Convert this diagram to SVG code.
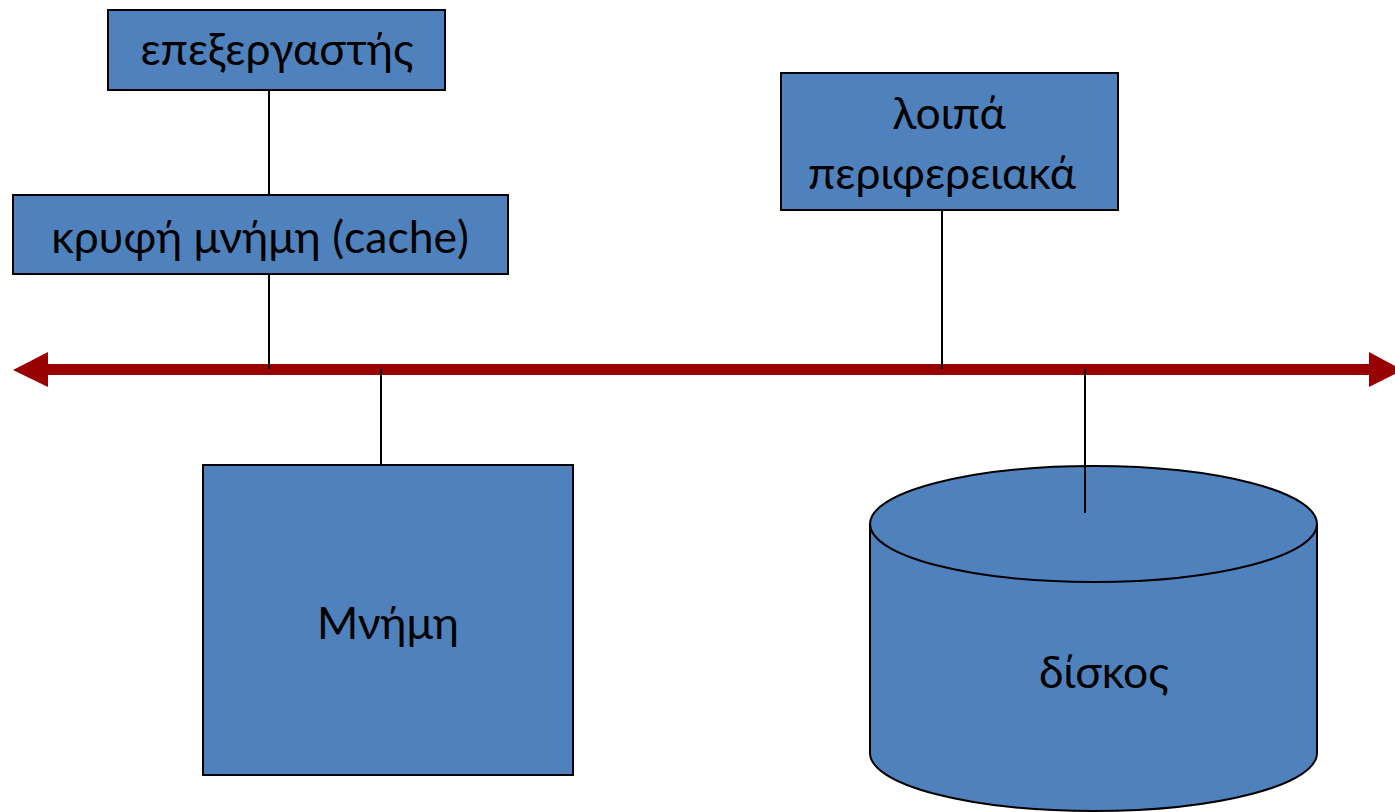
<svg xmlns="http://www.w3.org/2000/svg" width="1395" height="812" viewBox="0 0 1395 812">
  <style>
    .box { fill: #4F81BD; stroke: #000; stroke-width: 2; }
    .wire { stroke: #000; stroke-width: 2; fill: none; }
    .lbl { font-family: Lato, "Open Sans", "Noto Sans", sans-serif; font-size: 44.5px; fill: #000; text-anchor: middle; }
    .bus { fill: #990000; }
  </style>

  <!-- system bus: double-headed arrow -->
  <g id="bus">
    <polygon class="bus" points="13,370 48,352 48,364 1369,364 1369,352 1395,366 1395,374 1369,387 1369,375 48,375 48,387"/>
  </g>

  <!-- connectors to the bus -->
  <g id="connectors">
    <line class="wire" x1="269" y1="90" x2="269" y2="195"/>
    <line class="wire" x1="269" y1="274" x2="269" y2="369"/>
    <line class="wire" x1="942" y1="210" x2="942" y2="369"/>
    <line class="wire" x1="381" y1="369" x2="381" y2="465"/>
  </g>

  <g id="cpu">
    <rect class="box" x="108" y="10" width="337" height="80"/>
    <text class="lbl" x="277" y="65">επεξεργαστής</text>
  </g>

  <g id="cache">
    <rect class="box" x="13" y="195" width="495" height="79"/>
    <text class="lbl" x="260" y="253">κρυφή μνήμη (cache)</text>
  </g>

  <g id="peripherals">
    <rect class="box" x="781" y="73" width="337" height="137"/>
    <text class="lbl" x="949" y="129">λοιπά</text>
    <text class="lbl" x="942" y="189">περιφερειακά</text>
  </g>

  <g id="memory">
    <rect class="box" x="203" y="465" width="370" height="310"/>
    <text class="lbl" x="388" y="639">Μνήμη</text>
  </g>

  <g id="disk">
    <path class="box" d="M870,524 A223.5,58 0 0 1 1317,524 L1317,753 A223.5,58 0 0 1 870,753 Z"/>
    <path class="wire" d="M870,524 A223.5,58 0 0 0 1317,524"/>
    <line class="wire" x1="1085" y1="369" x2="1085" y2="513"/>
    <text class="lbl" x="1104" y="688">δίσκος</text>
  </g>
</svg>
